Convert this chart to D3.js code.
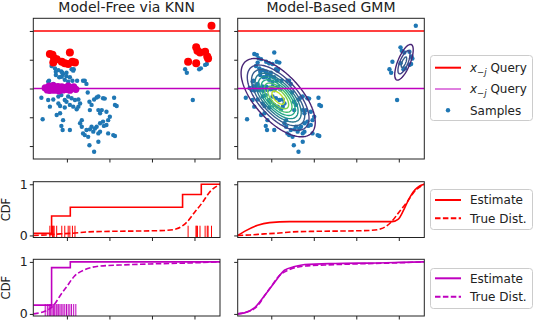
<!DOCTYPE html>
<html>
<head>
<meta charset="utf-8">
<script src="https://cdn.jsdelivr.net/npm/d3@7"></script>
<style>
  body { margin: 0; background: #fff; }
  text { font-family: "DejaVu Sans", sans-serif; fill: #222; }
</style>
</head>
<body>
<div id="chart"></div>
<script>
// ---- data (x, y in plot units) ----
var xTicks = [0, 1, 2, 3];
var yTicks = [0, 1, 2, 3, 4];
var cdfTicks = [0, 1];
var titles = ["Model-Free via KNN", "Model-Based GMM"];

var redQuery = 4;
var magentaQuery = 2;

var blueSamples = [
  [-0.36,2.78],[-0.28,2.70],[-0.20,2.64],[-0.13,2.59],[-0.09,2.50],[-0.01,2.43],[0.07,2.39],[0.11,2.67],
  [0.16,2.67],[-0.26,2.47],[-0.18,2.39],[-0.05,2.30],[0.03,2.24],[0.13,2.27],[0.24,2.27],[-0.42,2.27],
  [0.42,2.27],[0.46,2.16],[-0.11,2.55],[-0.01,2.55],[-0.26,2.58],[-0.12,2.41],[0.15,2.62],[0.38,2.27],
  [-0.44,2.24],[-0.32,2.16],
  [-0.60,1.68],[-0.44,1.60],[-0.32,1.62],[-0.20,1.72],[-0.13,1.77],[-0.05,1.60],[0.03,1.72],[0.11,1.66],
  [0.19,1.60],[0.27,1.62],[-0.16,1.39],[-0.05,1.34],[0.07,1.43],[0.15,1.37],[0.23,1.28],[-0.24,1.08],
  [-0.16,1.14],[-0.09,0.90],[-0.13,0.70],[0.07,0.56],[-0.57,0.93],[-0.10,0.56],[0.27,1.37],[0.31,1.48],
  [-0.20,1.48],[-0.01,1.54],[-0.40,1.37],
  [0.49,1.86],[0.53,1.54],[0.58,1.43],[0.64,1.62],[0.70,1.69],[0.74,1.72],[0.85,1.66],[0.89,1.65],
  [1.11,1.68],[1.13,1.43],[1.17,1.39],[0.54,1.25],[0.74,1.25],[0.82,1.25],[0.78,1.14],[0.93,1.19],
  [1.01,1.02],[0.97,0.90],[0.85,0.85],[0.78,0.79],[0.70,0.67],[0.66,0.61],[0.62,0.50],[0.46,0.56],
  [0.54,0.58],[0.35,0.90],[0.35,0.67],[0.38,0.44],[0.50,0.32],[0.53,0.03],[0.64,-0.20],[0.74,0.15],
  [0.78,0.50],[0.93,0.73],[1.09,0.38],[1.13,0.35],[0.97,0.44],[0.87,0.70],[0.74,0.44],[0.58,0.67],
  [0.42,0.38],[0.31,0.79],
  [2.78,2.67],[2.82,2.55],[3.11,2.67],[3.15,2.70],[3.25,2.82],[3.29,2.85],[2.96,1.60]
];

// nearest neighbours of each query (also samples)
var redNeighbors = [
  [-0.40,3.20],[-0.34,3.17],[-0.30,3.05],[-0.24,3.02],[-0.32,2.90],[-0.12,2.93],[-0.05,2.88],[0.07,3.25],
  [0.13,2.93],[0.19,2.90],[0.03,2.85],
  [2.85,2.93],[3.04,2.88],[3.04,3.43],[3.07,3.31],[3.13,3.25],[3.25,3.28],[3.30,3.11],[3.32,3.04],[3.40,4.18]
];
var magentaNeighbors = [
  [-0.51,2.02],[-0.46,1.95],[-0.42,2.08],[-0.40,1.93],[-0.38,2.03],[-0.35,1.97],[-0.32,2.10],[-0.30,1.94],
  [-0.28,2.02],[-0.24,1.96],[-0.21,2.07],[-0.19,1.92],[-0.16,2.01],[-0.12,2.06],[-0.09,1.95],[-0.05,2.03],
  [-0.01,1.97],[0.03,2.08],[0.07,1.94],[0.11,2.02],[0.16,2.06],[0.21,1.97]
];

// GMM fitted to the samples
var gmmComponents = [
  {w: 0.936, mx: 0.15, my: 1.70, sx: 0.41, sy: 0.64, rho: -0.63},
  {w: 0.064, mx: 3.11, my: 2.93, sx: 0.14, sy: 0.40, rho: 0.70}
];

// CDF curves  [x, F(x)]
var redKnnSteps = [[-0.79,0.04],[-0.36,0.38],[0.08,0.55],[2.72,0.80],[3.16,1.0],[3.6,1.0]];
var redGmmCdf = [[-0.79,0],[-0.63,0.08],[-0.32,0.2],[-0.04,0.25],[0.43,0.27],[2.84,0.27],[2.99,0.32],
  [3.15,0.56],[3.27,0.76],[3.38,0.89],[3.5,0.97],[3.6,1.0]];
var redTrueCdf = [[-0.79,0],[-0.5,0.01],[-0.16,0.03],[0.07,0.04],[0.5,0.07],[1.0,0.08],[1.95,0.09],
  [2.35,0.1],[2.58,0.13],[2.82,0.26],[3.0,0.45],[3.2,0.66],[3.35,0.84],[3.6,1.0]];

var magKnnSteps = [[-0.79,0.17],[-0.36,0.89],[0.08,1.0],[3.6,1.0]];
var magGmmCdf = [[-0.79,0],[-0.63,0.02],[-0.39,0.12],[-0.16,0.35],[0.08,0.61],[0.31,0.84],[0.55,0.91],
  [0.79,0.95],[1.5,0.97],[2.5,0.98],[3.0,0.99],[3.6,1.0]];
var magTrueCdf = [[-0.79,0],[-0.71,0.01],[-0.52,0.05],[-0.40,0.1],[-0.28,0.2],[-0.16,0.35],[0,0.53],
  [0.17,0.72],[0.42,0.85],[0.78,0.92],[1.25,0.94],[1.95,0.96],[2.89,0.98],[3.6,1.0]];

// ---- layout ----
var RED = "#ff0000", MAG = "#bf00bf", BLUE = "#1f77b4", INK = "#222";
var cols = [{x0: 33.3, x1: 220}, {x0: 237.7, x1: 424.3}];
var topRow = {y0: 18.3, y1: 159};
var cdfRows = [{y0: 181.7, y1: 237.5}, {y0: 259.3, y1: 316}];

var svg = d3.select("#chart").append("svg")
    .attr("width", 534)
    .attr("height", 320);

function makePanel(col, row, yDomain, yt, yLabels) {
  var x = d3.scaleLinear().domain([-0.79, 3.6]).range([col.x0, col.x1]);
  var y = d3.scaleLinear().domain(yDomain).range([row.y1, row.y0]);
  var g = svg.append("g");
  var id = "clip" + Math.round(col.x0) + "_" + Math.round(row.y0);
  svg.append("clipPath").attr("id", id).append("rect")
      .attr("x", col.x0).attr("y", row.y0)
      .attr("width", col.x1 - col.x0).attr("height", row.y1 - row.y0);
  var inner = g.append("g").attr("clip-path", "url(#" + id + ")");

  var ax = g.append("g").attr("transform", "translate(0," + row.y1 + ")")
      .call(d3.axisBottom(x).tickValues(xTicks).tickSize(3.5).tickSizeOuter(0).tickFormat(""));
  var ay = g.append("g").attr("transform", "translate(" + col.x0 + ",0)")
      .call(d3.axisLeft(y).tickValues(yt).tickSize(3.5).tickSizeOuter(0).tickPadding(2)
        .tickFormat(yLabels ? d3.format("d") : ""));
  [ax, ay].forEach(function(a) {
    a.select(".domain").remove();
    a.selectAll("line").attr("stroke", INK);
    a.selectAll("text").attr("font-size", 12.5).attr("font-family", "DejaVu Sans, sans-serif").attr("fill", INK);
  });
  g.append("rect")
      .attr("x", col.x0).attr("y", row.y0)
      .attr("width", col.x1 - col.x0).attr("height", row.y1 - row.y0)
      .attr("fill", "none").attr("stroke", INK).attr("stroke-width", 1);
  return {x: x, y: y, g: g, inner: inner};
}

function dots(p, data, r, color) {
  p.inner.append("g").selectAll("circle")
    .data(data).enter().append("circle")
    .attr("cx", function(d) { return p.x(d[0]); })
    .attr("cy", function(d) { return p.y(d[1]); })
    .attr("r", r)
    .attr("fill", color);
}

function hline(p, v, color) {
  p.inner.append("line")
    .attr("x1", p.x.range()[0]).attr("x2", p.x.range()[1])
    .attr("y1", p.y(v)).attr("y2", p.y(v))
    .attr("stroke", color).attr("stroke-width", 1.6);
}

var allSamples = blueSamples.concat(redNeighbors, magentaNeighbors);

// ---- top left: KNN ----
var p1 = makePanel(cols[0], topRow, [-0.45, 4.44], yTicks, false);
dots(p1, allSamples, 2.2, BLUE);
dots(p1, redNeighbors, 4, RED);
dots(p1, magentaNeighbors, 3.6, MAG);
hline(p1, redQuery, RED);
hline(p1, magentaQuery, MAG);

// ---- top right: GMM ----
var p2 = makePanel(cols[1], topRow, [-0.45, 4.44], yTicks, false);
dots(p2, allSamples, 2.2, BLUE);

function gmmDensity(x, y) {
  var s = 0;
  gmmComponents.forEach(function(c) {
    var zx = (x - c.mx) / c.sx, zy = (y - c.my) / c.sy, r = c.rho;
    var q = (zx * zx - 2 * r * zx * zy + zy * zy) / (1 - r * r);
    s += c.w * Math.exp(-q / 2) / (2 * Math.PI * c.sx * c.sy * Math.sqrt(1 - r * r));
  });
  return s;
}
var gw = Math.round(cols[1].x1 - cols[1].x0), gh = Math.round(topRow.y1 - topRow.y0);
var grid = new Array(gw * gh);
for (var j = 0; j < gh; j++) {
  for (var i = 0; i < gw; i++) {
    grid[j * gw + i] = gmmDensity(p2.x.invert(cols[1].x0 + i), p2.y.invert(topRow.y0 + j));
  }
}
var peak = d3.max(grid);
var step = peak / 9.6;
var levels = d3.range(1, 10).map(function(k) { return k * step; });
var contours = d3.contours().size([gw, gh]).thresholds(levels)(grid);
p2.inner.append("g")
    .attr("transform", "translate(" + cols[1].x0 + "," + topRow.y0 + ")")
  .selectAll("path")
  .data(contours).enter().append("path")
    .attr("d", d3.geoPath())
    .attr("fill", "none")
    .attr("stroke-width", 1.4)
    .attr("stroke", function(d) { return d3.interpolateViridis(d.value / (step * 10)); });
hline(p2, redQuery, RED);
hline(p2, magentaQuery, MAG);

// ---- CDF rows ----
function cdfPanel(col, row, labels) {
  return makePanel(col, row, [-0.04, 1.05], cdfTicks, labels);
}
function curve(p, data, color, dashed, stepped) {
  var line = d3.line()
    .x(function(d) { return p.x(d[0]); })
    .y(function(d) { return p.y(d[1]); })
    .curve(stepped ? d3.curveStepAfter : d3.curveMonotoneX);
  p.inner.append("path")
    .datum(data)
    .attr("d", line)
    .attr("fill", "none")
    .attr("stroke", color)
    .attr("stroke-width", 1.6)
    .attr("stroke-dasharray", dashed ? "5.5,2.4" : null);
}
function rug(p, data, color) {
  p.inner.append("g").selectAll("line")
    .data(data).enter().append("line")
    .attr("x1", function(d) { return p.x(d[0]); })
    .attr("x2", function(d) { return p.x(d[0]); })
    .attr("y1", p.y(-0.04)).attr("y2", p.y(0.19))
    .attr("stroke", color).attr("stroke-width", 1);
}

var p3 = cdfPanel(cols[0], cdfRows[0], true);
rug(p3, redNeighbors, RED);
curve(p3, redKnnSteps, RED, false, true);
curve(p3, redTrueCdf, RED, true, false);

var p4 = cdfPanel(cols[0], cdfRows[1], true);
rug(p4, magentaNeighbors, MAG);
curve(p4, magKnnSteps, MAG, false, true);
curve(p4, magTrueCdf, MAG, true, false);

var p5 = cdfPanel(cols[1], cdfRows[0], false);
curve(p5, redGmmCdf, RED, false, false);
curve(p5, redTrueCdf, RED, true, false);

var p6 = cdfPanel(cols[1], cdfRows[1], false);
curve(p6, magGmmCdf, MAG, false, false);
curve(p6, magTrueCdf, MAG, true, false);

// ---- titles / labels ----
titles.forEach(function(t, i) {
  svg.append("text")
    .attr("x", (cols[i].x0 + cols[i].x1) / 2)
    .attr("y", 11.5)
    .attr("text-anchor", "middle")
    .attr("font-size", 14)
    .text(t);
});
cdfRows.forEach(function(r) {
  svg.append("text")
    .attr("transform", "translate(10," + (r.y0 + r.y1) / 2 + ") rotate(-90)")
    .attr("text-anchor", "middle")
    .attr("font-size", 11.5)
    .text("CDF");
});

// ---- legends ----
function legendBox(y, h) {
  svg.append("rect")
    .attr("x", 430.5).attr("y", y).attr("width", 102).attr("height", h)
    .attr("rx", 3).attr("fill", "#fff").attr("stroke", "#ccc").attr("stroke-width", 1);
}
function legendLine(y, color, width, dashed) {
  svg.append("line")
    .attr("x1", 435).attr("x2", 461).attr("y1", y).attr("y2", y)
    .attr("stroke", color).attr("stroke-width", width)
    .attr("stroke-dasharray", dashed ? "5.5,2.4" : null);
}
function queryLabel(y) {
  var t = svg.append("text").attr("x", 470).attr("y", y + 4).attr("font-size", 12);
  t.append("tspan").attr("font-style", "italic").text("x");
  t.append("tspan").attr("dy", 3).attr("font-size", 8.5).text("\u2212");
  t.append("tspan").attr("font-size", 8.5).attr("font-style", "italic").text("j");
  t.append("tspan").attr("dy", -3).text(" Query");
}
function legendText(y, s) {
  svg.append("text").attr("x", 470).attr("y", y + 4.2).attr("font-size", 12).text(s);
}

legendBox(55.5, 65);
legendLine(67.7, RED, 2, false);
queryLabel(67.7);
legendLine(89, MAG, 1, false);
queryLabel(89);
svg.append("circle").attr("cx", 448).attr("cy", 110.3).attr("r", 2.2).attr("fill", BLUE);
legendText(110.3, "Samples");

[[189.5, RED, 200, 218.3], [268.5, MAG, 278.3, 296.7]].forEach(function(L) {
  legendBox(L[0], 40);
  legendLine(L[2], L[1], 2, false);
  legendText(L[2], "Estimate");
  legendLine(L[3], L[1], 2, true);
  legendText(L[3], "True Dist.");
});
</script>
</body>
</html>
